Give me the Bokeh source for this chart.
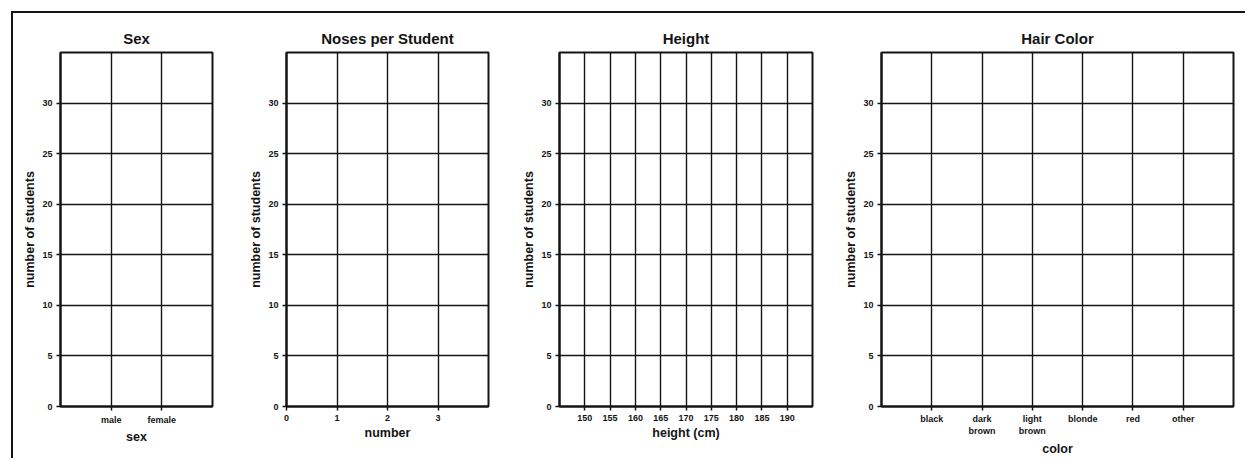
from bokeh.plotting import figure
from bokeh.layouts import row
from bokeh.models import Range1d, FixedTicker
from bokeh.embed import file_html
from bokeh.resources import INLINE

# ---- data (blank worksheet grids) ----
y_ticks = [0, 5, 10, 15, 20, 25, 30]
y_max = 35
y_label = "number of students"

sex_title = "Sex"
sex_label = "sex"
sex_categories = ["male", "female"]

noses_title = "Noses per Student"
noses_label = "number"
noses_ticks = [0, 1, 2, 3]
noses_max = 4

height_title = "Height"
height_label = "height (cm)"
height_ticks = [150, 155, 160, 165, 170, 175, 180, 185, 190]
height_min = 145
height_max = 195

hair_title = "Hair Color"
hair_label = "color"
hair_categories = ["black", "dark\nbrown", "light\nbrown", "blonde", "red", "other"]

INK = "#141414"
FONT = "Liberation Sans"
H = 445
MBT = 39
MBB = 45


def make(title, xlabel, xr, ticks, overrides, width, mbl, mbr):
    p = figure(width=width, height=H, x_range=Range1d(*xr), y_range=Range1d(0, y_max),
               output_backend="svg", toolbar_location=None, title=title,
               min_border_left=mbl, min_border_right=mbr,
               min_border_top=MBT, min_border_bottom=MBB)
    p.title.align = "center"
    p.title.text_font = FONT
    p.title.text_font_size = "15px"
    p.title.text_font_style = "bold"
    p.title.text_color = INK
    p.title.standoff = 11
    p.outline_line_color = INK
    p.outline_line_width = 2
    p.outline_line_alpha = 1
    p.background_fill_color = "white"
    p.border_fill_color = "white"

    p.xaxis.ticker = FixedTicker(ticks=ticks)
    p.yaxis.ticker = FixedTicker(ticks=y_ticks)
    if overrides:
        p.xaxis.major_label_overrides = overrides
    p.xaxis.axis_label = xlabel
    p.yaxis.axis_label = y_label
    for ax in (p.xaxis, p.yaxis):
        ax.axis_line_color = INK
        ax.axis_line_width = 2
        ax.major_tick_line_color = INK
        ax.major_tick_line_width = 1.5
        ax.major_tick_out = 4
        ax.major_tick_in = 0
        ax.minor_tick_line_color = None
        ax.major_label_text_font = FONT
        ax.major_label_text_font_size = "9px"
        ax.major_label_text_font_style = "bold"
        ax.major_label_text_color = INK
        ax.major_label_standoff = 4
        ax.axis_label_text_font = FONT
        ax.axis_label_text_font_size = "12.5px"
        ax.axis_label_text_font_style = "bold"
        ax.axis_label_text_color = INK
        ax.axis_label_standoff = 2
    p.yaxis.axis_label_standoff = 2
    for g in (p.xgrid, p.ygrid):
        g.grid_line_color = INK
        g.grid_line_width = 1.4
        g.grid_line_alpha = 1
    p.xgrid.ticker = FixedTicker(ticks=ticks)
    p.ygrid.ticker = FixedTicker(ticks=y_ticks)
    return p


sex_pos = list(range(1, len(sex_categories) + 1))
p1 = make(sex_title, sex_label, (0, len(sex_categories) + 1), sex_pos,
          {i: c for i, c in zip(sex_pos, sex_categories)}, 223, 47, 24)

p2 = make(noses_title, noses_label, (0, noses_max), noses_ticks, None, 275, 50, 23)

p3 = make(height_title, height_label, (height_min, height_max), height_ticks, None, 324, 48, 23)

hair_pos = list(range(1, len(hair_categories) + 1))
p4 = make(hair_title, hair_label, (0, len(hair_categories) + 1), hair_pos,
          {i: c for i, c in zip(hair_pos, hair_categories)}, 410, 46, 12)
p4.xaxis.major_label_standoff = 3
p4.xaxis.axis_label_standoff = 3

layout = row(p1, p2, p3, p4, margin=(11, 0, 0, 11),
             styles={"border-top": "2px solid #141414", "border-left": "2px solid #141414"})

open("out.html", "w").write(file_html(layout, INLINE))
